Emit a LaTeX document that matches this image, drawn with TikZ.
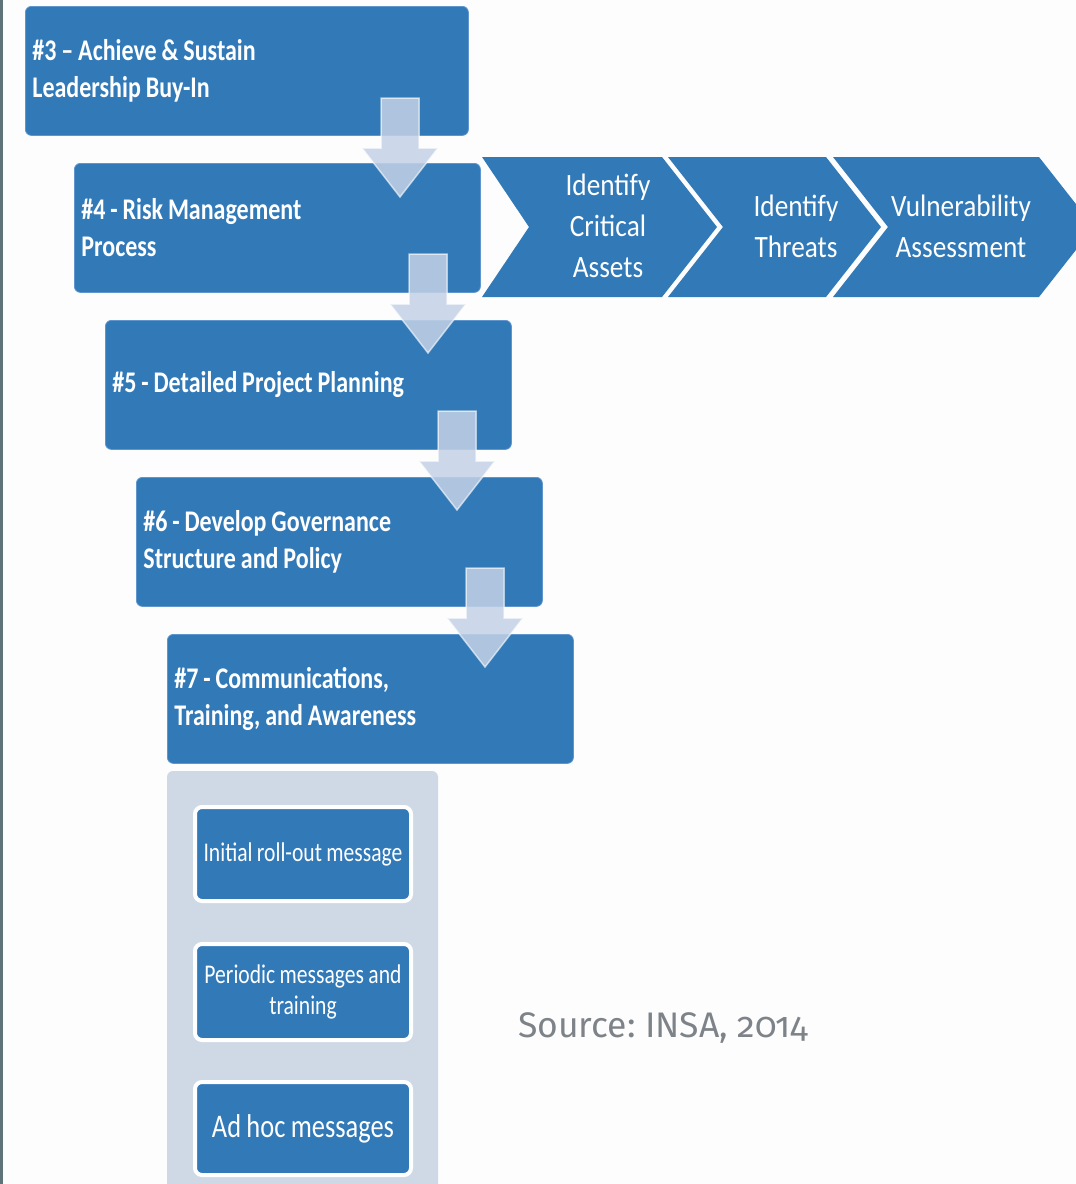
\documentclass[tikz,border=0pt]{standalone}
\usepackage{fontspec}
\newfontfamily\boxfont[FakeStretch=0.8, WordSpace=0.9]{Carlito}
\newfontfamily\chevfont[FakeStretch=0.88, WordSpace=0.9]{Carlito}
\newfontfamily\srcfont[Numbers=OldStyle]{Fira Sans}
\frenchspacing
\definecolor{stepblue}{RGB}{50,121,184}
\definecolor{stepedge}{RGB}{95,150,205}
\definecolor{panelgray}{RGB}{207,217,230}
\definecolor{arrowfill}{RGB}{196,210,230}
\definecolor{stripe}{RGB}{94,116,121}
\definecolor{srcgray}{RGB}{125,131,136}
\definecolor{paper}{RGB}{253,253,253}
\tikzset{
  stepbox/.style={fill=stepblue, draw=stepedge, line width=0.8pt, rounded corners=6pt,
    anchor=north west, minimum height=129pt, inner xsep=7pt, align=flush left,
    text=white, font=\boxfont\bfseries\fontsize{30}{37}\selectfont},
  chev/.style={fill=stepblue},
  chevtext/.style={text=white, align=flush center, inner sep=0pt,
    font=\chevfont\fontsize{31}{41}\selectfont},
  subbox/.style={fill=stepblue, draw=white, line width=4pt, rounded corners=7pt,
    minimum width=216pt, align=flush center, inner sep=0pt, text=white,
    font=\boxfont\fontsize{27}{31}\selectfont},
  downarrow/.pic={
    \path[fill=arrowfill, fill opacity=0.85, draw=white, draw opacity=0.6, line width=1.5pt]
      (-19,-99) -- (19,-99) -- (19,-49) -- (38,-49) -- (0,0)
      -- (-38,-49) -- (-19,-49) -- cycle;
  }
}
\begin{document}
\begin{tikzpicture}[x=1pt, y=-1pt]
\useasboundingbox (0,0) rectangle (1076,1184);
\clip (0,0) rectangle (1076,1184);
\fill[paper] (0,0) rectangle (1076,1184);
\fill[stripe] (0,0) rectangle (3,1184);

% main process steps
\node[stepbox, text width=429pt] (s3) at (25,6) {\#3 – Achieve \& Sustain\\Leadership Buy-In};
\node[stepbox, text width=392pt] (s4) at (74,163) {\#4 - Risk Management\\Process};
\pic at (400,197) {downarrow};
\node[stepbox, text width=392pt] (s5) at (105,320) {\#5 - Detailed Project Planning};
\pic at (428,353) {downarrow};
\node[stepbox, text width=392pt] (s6) at (136,477) {\#6 - Develop Governance\\Structure and Policy};
\pic at (457,510) {downarrow};
\node[stepbox, text width=392pt] (s7) at (167,634) {\#7 - Communications,\\Training, and Awareness};
\pic at (485,667) {downarrow};

% risk management chevrons
\fill[chev] (482,157) -- (662,157) -- (717,227) -- (662,297) -- (482,297) -- (529,227) -- cycle;
\fill[chev] (668,157) -- (826,157) -- (881,227) -- (826,297) -- (668,297) -- (723,227) -- cycle;
\fill[chev] (833,157) -- (1039,157) -- (1094,227) -- (1039,297) -- (833,297) -- (888,227) -- cycle;
\node[chevtext] (c1) at (608,226) {Identify\\Critical\\Assets};
\node[chevtext] (c2) at (796,226) {Identify\\Threats};
\node[chevtext] (c3) at (961,226) {Vulnerability\\Assessment};

% communication activities
\fill[panelgray, rounded corners=6pt] (167,771) rectangle (438,1210);
\node[subbox, minimum height=94pt] (m1) at (303,854) {Initial roll-out message};
\node[subbox, minimum height=96pt] (m2) at (303,992) {Periodic messages and\\training};
\node[subbox, minimum height=93pt, font=\boxfont\fontsize{33}{38}\selectfont] (m3) at (303,1128.5) {Ad hoc messages};

\node[anchor=base west, inner sep=0pt, text=srcgray, font=\srcfont\fontsize{35.5}{42}\selectfont] (src) at (518,1037) {Source: INSA, 2014};
\end{tikzpicture}
\end{document}
